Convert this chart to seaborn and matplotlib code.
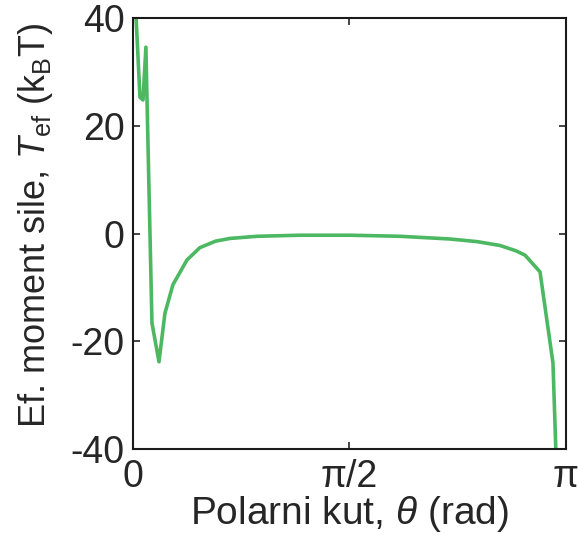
import numpy as np
import pandas as pd
import matplotlib
matplotlib.use("Agg")
import matplotlib.pyplot as plt
import seaborn as sns

theta = [0.022, 0.051, 0.073, 0.094, 0.102, 0.138, 0.189, 0.232, 0.290, 0.392,
         0.486, 0.60, 0.704, 0.90, 1.212, 1.575, 1.938, 2.300, 2.50, 2.663,
         2.78, 2.845, 2.954, 3.048, 3.070]
torque = [40.5, 25.3, 24.8, 34.6, 25.0, -16.6, -23.8, -14.8, -9.5, -4.9,
          -2.6, -1.4, -0.9, -0.5, -0.3, -0.3, -0.5, -1.0, -1.5, -2.2,
          -3.2, -4.0, -7.1, -24.0, -41.0]
xtick_vals = [0, np.pi / 2, np.pi]
xtick_labels = ["0", "π/2", "π"]
ytick_vals = [-40, -20, 0, 20, 40]

df = pd.DataFrame({"theta": theta, "torque": torque})

sns.set_style("ticks")
plt.rcParams["font.family"] = ["Liberation Sans", "DejaVu Sans"]
plt.rcParams["mathtext.fontset"] = "custom"
plt.rcParams["mathtext.rm"] = "Liberation Sans"
plt.rcParams["mathtext.it"] = "Liberation Sans:italic"
plt.rcParams["axes.unicode_minus"] = False

fig = plt.figure(figsize=(5.78, 5.49), dpi=100)
ax = fig.add_axes([0.230, 0.182, 0.749, 0.785])
sns.lineplot(data=df, x="theta", y="torque", sort=False, ax=ax,
             color="#4cb862", linewidth=2.6)
ax.set_xlim(0, np.pi)
ax.set_ylim(-40, 40)
ax.set_xticks(xtick_vals)
ax.set_xticklabels(xtick_labels)
ax.set_yticks(ytick_vals)
ax.tick_params(direction="in", length=5, width=1.2, labelsize=27,
               top=True, right=True, colors="#262626")
ax.tick_params(axis="x", pad=7)
ax.tick_params(axis="y", pad=6)
for s in ax.spines.values():
    s.set_visible(True)
    s.set_linewidth(1.5)
    s.set_color("#1a1a1a")
ax.set_xlabel(r"Polarni kut, $\mathit{\theta}$ (rad)", fontsize=28, color="#262626")
ax.set_ylabel(r"Ef. moment sile, $\mathit{T}_{\rm ef}$ (k$_{\rm B}$T)", fontsize=26,
              color="#262626")
ax.xaxis.set_label_coords(0.5, -0.104)
ax.yaxis.set_label_coords(-0.18, 0.52)
fig.savefig("out.png", dpi=100)
